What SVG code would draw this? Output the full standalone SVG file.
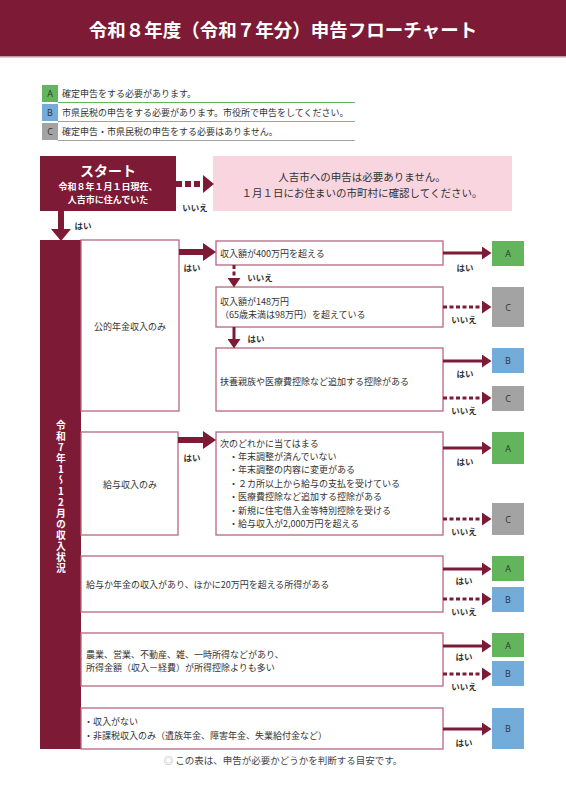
<svg xmlns="http://www.w3.org/2000/svg" width="566" height="800" viewBox="0 0 566 800">
<defs>
<style>
text{font-family:"Noto Sans CJK JP","Noto Sans",sans-serif;dominant-baseline:central;}
.t{font-size:9px;fill:#333;}
.lbl{font-size:8.5px;font-weight:bold;fill:#333;text-anchor:middle;}
.box{fill:#fff;stroke:#b7677e;stroke-width:1.3;}
.A{fill:#62b55c;}
.B{fill:#74acd9;}
.C{fill:#a3a3a3;}
.let{font-family:"Open Sans","Noto Sans",sans-serif;font-size:9px;fill:#333;text-anchor:middle;}
.vt{font-size:9.8px;font-weight:bold;fill:#fff;text-anchor:middle;writing-mode:vertical-rl;text-orientation:upright;letter-spacing:1.2px;}
.tcy{text-combine-upright:all;}
.thin{stroke:#7d1a36;stroke-width:3;fill:none;marker-end:url(#ah);}
.dash{stroke-dasharray:4,2.5;}
.thick{stroke:#7d1a36;stroke-width:6;fill:none;}
.hd{fill:#7d1a36;}
</style>
<marker id="ah" markerUnits="userSpaceOnUse" markerWidth="10" markerHeight="13" refX="0" refY="6.5" orient="auto">
<path d="M0,0 L9.5,6.5 L0,13 z" fill="#7d1a36"/>
</marker>
</defs>
<rect width="566" height="800" fill="#fff"/>
<g id="header">
<rect x="0" y="0" width="566" height="56" fill="#7d1b36"/>
<rect x="0" y="56" width="566" height="1.5" fill="#c29aa6"/>
<text x="283" y="29" font-size="18.5" font-weight="bold" fill="#fff" text-anchor="middle">令和８年度（令和７年分）申告フローチャート</text>
</g>
<g id="legend">
<rect x="42" y="85" width="16" height="17" class="A"/><text x="50" y="93.5" class="let">A</text>
<text x="62" y="93.5" class="t">確定申告をする必要があります。</text>
<line x1="58" y1="102.5" x2="355" y2="102.5" stroke="#62b55c" stroke-width="1"/>
<rect x="42" y="104" width="16" height="17" class="B"/><text x="50" y="112.5" class="let">B</text>
<text x="62" y="112.5" class="t">市県民税の申告をする必要があります。市役所で申告をしてください。</text>
<line x1="58" y1="121.5" x2="355" y2="121.5" stroke="#74acd9" stroke-width="1"/>
<rect x="42" y="123" width="16" height="17" class="C"/><text x="50" y="131.5" class="let">C</text>
<text x="62" y="131.5" class="t">確定申告・市県民税の申告をする必要はありません。</text>
<line x1="58" y1="140.5" x2="355" y2="140.5" stroke="#a3a3a3" stroke-width="1"/>
</g>
<g id="start">
<rect x="40" y="156" width="136" height="55" fill="#7d1a36"/>
<text x="108" y="170" font-size="14" font-weight="bold" fill="#fff" text-anchor="middle">スタート</text>
<text x="108" y="186" font-size="9" font-weight="bold" fill="#fff" text-anchor="middle">令和８年１月１日現在、</text>
<text x="108" y="199" font-size="9" font-weight="bold" fill="#fff" text-anchor="middle">人吉市に住んでいた</text>
</g>
<g id="notice">
<rect x="213" y="156" width="299" height="55" fill="#f9d5df"/>
<text x="362" y="176" font-size="10.5" fill="#333" text-anchor="middle">人吉市への申告は必要ありません。</text>
<text x="362" y="192" font-size="10.5" fill="#333" text-anchor="middle">１月１日にお住まいの市町村に確認してください。</text>
</g>
<g id="income-bar">
<rect x="40" y="240" width="41" height="509" fill="#7d1a36"/>
<text x="61" y="497" class="vt">令和7年1～<tspan class="tcy">12</tspan>月の収入状況</text>
</g>
<g id="pension">
<rect x="81" y="240" width="98" height="171" class="box"/>
<text x="130" y="326" class="t" text-anchor="middle">公的年金収入のみ</text>
</g>
<g id="q-400">
<rect x="216" y="241" width="227" height="24" class="box"/>
<text x="220" y="253" class="t">収入額が400万円を超える</text>
</g>
<g id="q-148">
<rect x="216" y="287" width="227" height="40" class="box"/>
<text x="220" y="301" class="t">収入額が148万円</text>
<text x="220" y="314" class="t">（65歳未満は98万円）を超えている</text>
</g>
<g id="q-deduction">
<rect x="216" y="348" width="227" height="63" class="box"/>
<text x="220" y="381" class="t">扶養親族や医療費控除など追加する控除がある</text>
</g>
<g id="r-p1"><rect x="492" y="241" width="32" height="25" class="A"/><text x="508" y="253.5" class="let">A</text></g>
<g id="r-p2"><rect x="492" y="287" width="32" height="40" class="C"/><text x="508" y="307" class="let">C</text></g>
<g id="r-p3"><rect x="492" y="348" width="32" height="25" class="B"/><text x="508" y="360.5" class="let">B</text></g>
<g id="r-p4"><rect x="492" y="386" width="32" height="25" class="C"/><text x="508" y="398.5" class="let">C</text></g>
<g id="salary">
<rect x="81" y="432" width="97" height="103" class="box"/>
<text x="130" y="484" class="t" text-anchor="middle">給与収入のみ</text>
</g>
<g id="q-salary">
<rect x="216" y="432" width="227" height="103" class="box"/>
<text x="220" y="443" class="t">次のどれかに当てはまる</text>
<text x="229" y="456" class="t">・年末調整が済んでいない</text>
<text x="229" y="469.5" class="t">・年末調整の内容に変更がある</text>
<text x="229" y="483" class="t">・２カ所以上から給与の支払を受けている</text>
<text x="229" y="496.5" class="t">・医療費控除など追加する控除がある</text>
<text x="229" y="510" class="t">・新規に住宅借入金等特別控除を受ける</text>
<text x="229" y="523.5" class="t">・給与収入が2,000万円を超える</text>
</g>
<g id="r-s1"><rect x="492" y="432" width="32" height="32" class="A"/><text x="508" y="448" class="let">A</text></g>
<g id="r-s2"><rect x="492" y="503" width="32" height="32" class="C"/><text x="508" y="519" class="let">C</text></g>
<g id="q-other">
<rect x="81" y="556" width="362" height="56" class="box"/>
<text x="86" y="584" class="t">給与か年金の収入があり、ほかに20万円を超える所得がある</text>
</g>
<g id="r-o1"><rect x="492" y="556" width="32" height="25" class="A"/><text x="508" y="568.5" class="let">A</text></g>
<g id="r-o2"><rect x="492" y="587" width="32" height="25" class="B"/><text x="508" y="599.5" class="let">B</text></g>
<g id="q-business">
<rect x="81" y="633" width="362" height="53" class="box"/>
<text x="86" y="654" class="t">農業、営業、不動産、雑、一時所得などがあり、</text>
<text x="86" y="667" class="t">所得金額（収入－経費）が所得控除よりも多い</text>
</g>
<g id="r-b1"><rect x="492" y="633" width="32" height="24" class="A"/><text x="508" y="645" class="let">A</text></g>
<g id="r-b2"><rect x="492" y="661" width="32" height="25" class="B"/><text x="508" y="673.5" class="let">B</text></g>
<g id="q-none">
<rect x="81" y="708" width="362" height="41" class="box"/>
<text x="84" y="721" class="t">・収入がない</text>
<text x="84" y="735" class="t">・非課税収入のみ（遺族年金、障害年金、失業給付金など）</text>
</g>
<g id="r-n1"><rect x="492" y="708" width="32" height="41" class="B"/><text x="508" y="728.5" class="let">B</text></g>
<g id="connectors">
<line x1="61" y1="211" x2="61" y2="230" class="thick"/>
<polygon points="51,229 71,229 61,241" class="hd"/>
<line x1="176" y1="184" x2="204" y2="184" class="thick" stroke-dasharray="6,3"/>
<polygon points="203,175 203,193 214,184" class="hd"/>
<line x1="179" y1="252" x2="204" y2="252" class="thick"/>
<polygon points="203,243 203,261 216,252" class="hd"/>
<line x1="178" y1="440" x2="204" y2="440" class="thick"/>
<polygon points="203,431 203,449 216,440" class="hd"/>
<line x1="234" y1="265" x2="234" y2="278" class="thin dash"/>
<line x1="234" y1="327" x2="234" y2="339" class="thin"/>
<line x1="443" y1="253" x2="482" y2="253" class="thin"/>
<line x1="443" y1="307" x2="482" y2="307" class="thin dash"/>
<line x1="443" y1="361" x2="482" y2="361" class="thin"/>
<line x1="443" y1="398" x2="482" y2="398" class="thin dash"/>
<line x1="443" y1="448" x2="482" y2="448" class="thin"/>
<line x1="443" y1="519" x2="482" y2="519" class="thin dash"/>
<line x1="443" y1="569" x2="482" y2="569" class="thin"/>
<line x1="443" y1="599" x2="482" y2="599" class="thin dash"/>
<line x1="443" y1="646" x2="482" y2="646" class="thin"/>
<line x1="443" y1="674" x2="482" y2="674" class="thin dash"/>
<line x1="443" y1="729" x2="482" y2="729" class="thin"/>
<text x="195" y="207" class="lbl">いいえ</text>
<text x="83" y="225" class="lbl">はい</text>
<text x="192" y="267" class="lbl">はい</text>
<text x="465" y="267" class="lbl">はい</text>
<text x="260" y="277" class="lbl">いいえ</text>
<text x="464" y="319" class="lbl">いいえ</text>
<text x="256" y="338" class="lbl">はい</text>
<text x="465" y="373" class="lbl">はい</text>
<text x="464" y="410" class="lbl">いいえ</text>
<text x="192" y="457" class="lbl">はい</text>
<text x="465" y="461" class="lbl">はい</text>
<text x="464" y="531" class="lbl">いいえ</text>
<text x="464" y="580" class="lbl">はい</text>
<text x="464" y="611" class="lbl">いいえ</text>
<text x="464" y="656" class="lbl">はい</text>
<text x="464" y="686" class="lbl">いいえ</text>
<text x="464" y="742" class="lbl">はい</text>
</g>
<g id="footer">
<text x="283" y="760" font-size="9.5" fill="#444" text-anchor="middle"><tspan fill="#999">◎</tspan> この表は、申告が必要かどうかを判断する目安です。</text>
</g>
</svg>
